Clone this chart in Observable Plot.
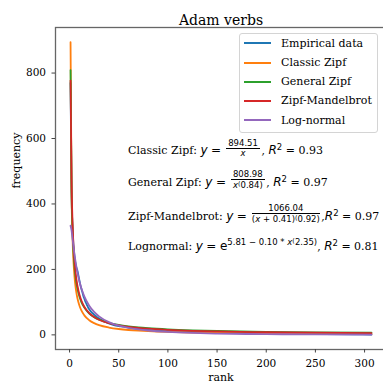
<!DOCTYPE html>
<html><head><meta charset="utf-8">
<script src="https://cdn.jsdelivr.net/npm/d3@7"></script>
<script src="https://cdn.jsdelivr.net/npm/@observablehq/plot@0.6"></script>
<style>
body{margin:0;background:#fff;}
#wrap{position:relative;width:383px;height:392px;overflow:hidden;font-family:"DejaVu Serif",serif;color:#000;}
#legend{position:absolute;box-sizing:border-box;border:1px solid #d4d4d4;border-radius:3px;background:rgba(255,255,255,0.8);}
.lrow{position:absolute;left:0;height:18px;display:flex;align-items:center;font-size:11px;white-space:nowrap;}
.lline{display:inline-block;width:27px;height:2px;margin-left:4px;margin-right:10px;}
.ann{position:absolute;font-size:11px;line-height:14px;white-space:nowrap;}
.m{font-family:"DejaVu Sans",sans-serif;font-size:12px;}
.mi{font-family:"DejaVu Sans",sans-serif;font-style:italic;font-size:12px;}
.frac{display:inline-block;vertical-align:middle;text-align:center;font-family:"DejaVu Sans",sans-serif;font-size:8.5px;line-height:9px;margin:-20px 1.5px;position:relative;top:-2px;}
.frac .num{display:block;padding:0 2px;border-bottom:0.8px solid #000;}
.frac .den{display:block;padding-top:0.5px;}
.sup{font-size:8.5px;position:relative;top:-5px;}
.sup2{font-size:8.5px;position:relative;top:-4px;}
.sups{font-size:6.5px;position:relative;top:-2px;}
</style></head><body><div id="wrap"></div><script>
// ---- data ----
const seriesNames = ["Empirical data", "Classic Zipf", "General Zipf", "Zipf-Mandelbrot", "Log-normal"];
const seriesColors = ["#1f77b4", "#ff7f0e", "#2ca02c", "#d62728", "#9467bd"];

const empiricalRanks = [1,2,3,4,5,6,7,8,9,10,11,12,13,14,15,16,17,18,19,20,22,25,28,30,33,36,40,45,50,55,60,70,80,90,100,120,140,160,180,200,230,260,290,307];
const empiricalFreq  = [770,440,330,272,240,218,205,196,182,166,152,141,131,119,111,102,96,89,83,78,70,62,54,50,45,40,35,30,27,25,22,18,15,13,11,9,7,6,5,4,3,2,1.5,1];

const fitRanks = [1,2,3,4,5,6,7,8,10,12,15,20,25,30,40,50,60,70,80,100,125,150,200,250,307];
const classicZipf     = [894.5,447.3,298.2,223.6,178.9,149.1,127.8,111.8,89.5,74.5,59.6,44.7,35.8,29.8,22.4,17.9,14.9,12.8,11.2,8.9,7.2,6.0,4.5,3.6,2.9];
const generalZipf     = [809.0,452.0,321.5,252.5,209.3,179.6,157.8,141.1,116.9,100.3,83.2,65.3,54.2,46.5,36.5,30.3,26.0,22.8,20.4,16.9,14.0,12.0,9.4,7.8,6.6];
const zipfMandelbrot  = [777.0,474.6,344.9,272.2,225.6,192.9,168.9,150.3,123.5,105.1,86.1,66.5,54.3,46.1,35.5,28.9,24.5,21.3,18.8,15.4,12.5,10.6,8.1,6.6,5.5];
const logNormal       = [333.6,319.8,294.5,269.0,245.7,225.0,206.8,190.8,164.0,142.7,117.9,89.3,70.1,56.5,38.9,28.3,21.4,16.7,13.3,8.9,5.8,4.0,2.2,1.3,0.8];

const xTicks = [0, 50, 100, 150, 200, 250, 300];
const yTicks = [0, 200, 400, 600, 800];
const annotationY = [557, 459, 355, 261]; // frequency units, text baselines
const annotationX = 60; // rank units

// ---- build table ----
const rows = [];
empiricalRanks.forEach((r, i) => rows.push({series: seriesNames[0], rank: r, freq: empiricalFreq[i]}));
[[seriesNames[1], classicZipf], [seriesNames[2], generalZipf], [seriesNames[3], zipfMandelbrot], [seriesNames[4], logNormal]]
  .forEach(([name, vals]) => fitRanks.forEach((r, i) => rows.push({series: name, rank: r, freq: vals[i]})));

const chart = Plot.plot({
  width: 383, height: 392,
  marginLeft: 55, marginRight: -3, marginTop: 27, marginBottom: 43,
  style: {fontFamily: "DejaVu Serif", fontSize: "10.5px", color: "#000", background: "#fff"},
  x: {domain: [-14.3, 322.3]},
  y: {domain: [-44.7, 939.2]},
  color: {domain: seriesNames, range: seriesColors},
  marks: [
    Plot.line(rows, {x: "rank", y: "freq", stroke: "series", z: "series", strokeWidth: 1.8, curve: "monotone-x"}),
    Plot.frame({stroke: "#666", strokeWidth: 1.3}),
    Plot.axisX({ticks: xTicks, tickSize: 3.5, tickPadding: 7, label: null, stroke: "#444", fill: "#000"}),
    Plot.axisY({ticks: yTicks, tickSize: 3.5, tickPadding: 6, label: null, stroke: "#444", fill: "#000"}),
    Plot.text(["Adam verbs"], {frameAnchor: "top", dy: -12.5, fontSize: 14}),
    Plot.text(["rank"], {frameAnchor: "bottom", dy: 31, fontSize: 11}),
    Plot.text(["frequency"], {frameAnchor: "left", dx: -39, rotate: -90, fontSize: 11})
  ]
});

const wrap = document.getElementById("wrap");
wrap.appendChild(chart);

// ---- legend ----
const legend = document.createElement("div");
legend.id = "legend";
Object.assign(legend.style, {left: "239px", top: "33px", width: "139px", height: "100px"});
seriesNames.forEach((n, i) => {
  const row = document.createElement("div");
  row.className = "lrow";
  row.style.top = (10.3 + i * 19.2 - 9 - 1) + "px";
  const ln = document.createElement("span");
  ln.className = "lline";
  ln.style.background = seriesColors[i];
  const tx = document.createElement("span");
  tx.textContent = n;
  row.appendChild(ln); row.appendChild(tx);
  legend.appendChild(row);
});
wrap.appendChild(legend);

// ---- annotations ----
const xs = chart.scale("x"), ys = chart.scale("y");
const annHTML = [
  `Classic Zipf: <span class="mi">y</span> <span class="m">=</span> <span class="frac"><span class="num">894.51</span><span class="den"><i>x</i></span></span>, <span class="mi">R</span><span class="sup2 m">2</span> = 0.93`,
  `General Zipf: <span class="mi">y</span> <span class="m">=</span> <span class="frac"><span class="num">808.98</span><span class="den"><i>x</i><span class="sups">(</span>0.84)</span></span>, <span class="mi">R</span><span class="sup2 m">2</span> = 0.97`,
  `Zipf-Mandelbrot: <span class="mi">y</span> <span class="m">=</span> <span class="frac"><span class="num">1066.04</span><span class="den">(<i>x</i> + 0.41)<span class="sups">(</span>0.92)</span></span>,<span class="mi">R</span><span class="sup2 m">2</span> = 0.97`,
  `Lognormal: <span class="mi">y</span> <span class="m">=</span> <span class="m">e</span><span class="sup m">5.81 − 0.10 * <i>x</i><span class="sups">(</span>2.35)</span>, <span class="mi">R</span><span class="sup2 m">2</span> = 0.81`
];
annHTML.forEach((h, i) => {
  const d = document.createElement("div");
  d.className = "ann";
  d.innerHTML = h;
  d.style.left = xs.apply(annotationX) + "px";
  d.style.top = (ys.apply(annotationY[i]) - 9.5) + "px";
  wrap.appendChild(d);
});
</script></body></html>
